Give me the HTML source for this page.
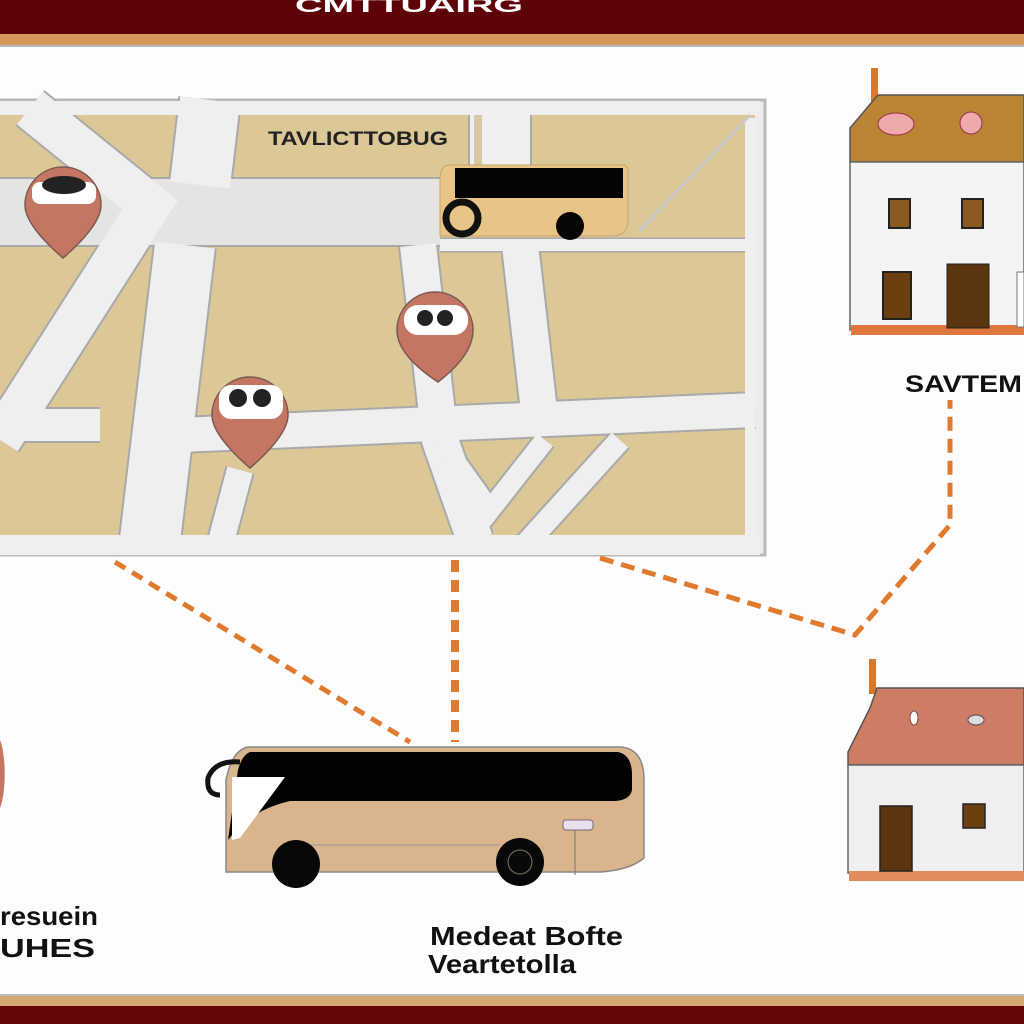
<!DOCTYPE html>
<html><head><meta charset="utf-8"><style>
html,body{margin:0;padding:0;background:#fff;}
svg{display:block;}
text{font-family:"Liberation Sans",sans-serif;font-weight:bold;}
</style></head><body>
<svg width="1024" height="1024" viewBox="0 0 1024 1024" xmlns="http://www.w3.org/2000/svg">
<rect width="1024" height="1024" fill="#fdfdfd"/>
<rect x="0" y="0" width="1024" height="34" fill="#5e0309"/>
<rect x="0" y="34" width="1024" height="11" fill="#d59a5a"/>
<rect x="0" y="45" width="1024" height="2" fill="#b9b9c0"/>
<text x="295" y="12" font-size="20" fill="#fff" textLength="228" lengthAdjust="spacingAndGlyphs">CMTTUAIRG</text>
<rect x="0" y="994" width="1024" height="2" fill="#b9b9c0"/>
<rect x="0" y="996" width="1024" height="10" fill="#d4a872"/>
<rect x="0" y="1006" width="1024" height="18" fill="#640508"/>

<rect x="0" y="100" width="765" height="455" fill="#ececec" stroke="#b9b9b9" stroke-width="3"/>
<rect x="0" y="112" width="755" height="428" fill="#dcc797"/>
<g stroke="#a9a9a9" stroke-linecap="butt" fill="none">
 <path d="M0 212 H440" stroke-width="70"/>
 <path d="M440 245 H755" stroke-width="15"/>
 <path d="M30 108 L150 205 L0 440" stroke-width="46"/>
 <path d="M185 245 L150 540" stroke-width="64"/>
 <path d="M210 100 L200 185" stroke-width="64"/>
 <path d="M500 110 V180" stroke-width="64"/>
 <path d="M418 245 L440 440 L475 540" stroke-width="40"/>
 <path d="M520 245 L540 420" stroke-width="40"/>
 <path d="M20 425 H100" stroke-width="36"/>
 <path d="M180 435 L755 410" stroke-width="38"/>
 <path d="M440 440 L490 510 L545 440" stroke-width="24"/>
 <path d="M620 440 L525 545" stroke-width="26"/>
 <path d="M240 470 L220 545" stroke-width="30"/>
</g>
<g stroke="#efefef" stroke-linecap="butt" fill="none">
 <path d="M0 212 H440" stroke-width="66" stroke="#e4e4e4"/>
 <path d="M440 245 H755" stroke-width="12"/>
 <path d="M30 108 L150 205 L0 440" stroke-width="42"/>
 <path d="M185 245 L150 540" stroke-width="60"/>
 <path d="M210 100 L200 185" stroke-width="60"/>
 <path d="M500 110 V180" stroke-width="60"/>
 <path d="M418 245 L440 440 L475 540" stroke-width="36"/>
 <path d="M520 245 L540 420" stroke-width="36"/>
 <path d="M20 425 H100" stroke-width="32"/>
 <path d="M180 435 L755 410" stroke-width="34"/>
 <path d="M440 440 L490 510 L545 440" stroke-width="20"/>
 <path d="M620 440 L525 545" stroke-width="22"/>
 <path d="M240 470 L220 545" stroke-width="26"/>
 <path d="M0 545 H760" stroke-width="20"/>
 <path d="M0 108 H760" stroke-width="14"/>
 <path d="M750 118 V545" stroke-width="10"/>
 <path d="M640 230 L750 115" stroke-width="3" stroke="#c9c9c9"/>
</g>
<text x="268" y="145" font-size="19" fill="#222" textLength="180" lengthAdjust="spacingAndGlyphs">TAVLICTTOBUG</text>
<rect x="474" y="115" width="8" height="50" fill="#d8c9a6"/>
<path d="M450 165 H622 Q628 165 628 172 V220 Q628 236 612 236 H440 V180 Q440 165 450 165Z" fill="#e9c487" stroke="#c8a56b"/>
<rect x="455" y="168" width="168" height="30" fill="#050505"/>
<circle cx="570" cy="226" r="14" fill="#060606"/>
<circle cx="462" cy="218" r="16" fill="none" stroke="#111" stroke-width="7"/>
<g stroke="#7a5a50" stroke-width="1.5">
 <path d="M25 205 A38 38 0 1 1 101 205 Q101 225 63 258 Q25 225 25 205Z" fill="#c47662"/>
 <path d="M397 330 A38 38 0 1 1 473 330 Q473 355 438 382 Q397 355 397 330Z" fill="#c47662"/>
 <path d="M212 415 A38 38 0 1 1 288 415 Q288 435 250 468 Q212 435 212 415Z" fill="#c47662"/>
</g>
<rect x="32" y="182" width="64" height="22" rx="8" fill="#fff"/>
<ellipse cx="64" cy="185" rx="22" ry="9" fill="#222"/>
<rect x="404" y="305" width="64" height="30" rx="14" fill="#fff"/>
<circle cx="425" cy="318" r="8" fill="#222"/><circle cx="445" cy="318" r="8" fill="#222"/>
<rect x="219" y="385" width="64" height="34" rx="12" fill="#fff"/>
<circle cx="238" cy="398" r="9" fill="#222"/><circle cx="262" cy="398" r="9" fill="#222"/>

<g stroke-width="5" fill="none">
 <path d="M115 562 L410 742" stroke="#fff"/>
 <path d="M115 562 L410 742" stroke="#e07a2e" stroke-dasharray="12 8"/>
 <path d="M455 560 V742" stroke="#fff" stroke-width="8"/>
 <path d="M455 560 V742" stroke="#e07a2e" stroke-width="8" stroke-dasharray="12 8"/>
 <path d="M600 558 L855 635 L950 525 L950 400" stroke="#e07a2e" stroke-dasharray="14 8"/>
</g>

<rect x="871" y="68" width="7" height="35" fill="#d9782c"/>
<path d="M878 95 H1024 V162 H850 V128 L872 102Z" fill="#b98535" stroke="#555" stroke-width="1.5"/>
<rect x="850" y="162" width="174" height="168" fill="#f4f4f4" stroke="#666" stroke-width="1.5"/>
<rect x="851" y="325" width="173" height="10" fill="#e0783e"/>
<rect x="889" y="199" width="21" height="29" fill="#8a5a20" stroke="#222" stroke-width="2"/>
<rect x="962" y="199" width="21" height="29" fill="#8a5a20" stroke="#222" stroke-width="2"/>
<rect x="883" y="272" width="28" height="47" fill="#6b3f10" stroke="#222" stroke-width="2"/>
<rect x="947" y="264" width="42" height="64" fill="#5a3510" stroke="#222" stroke-width="1"/>
<rect x="1017" y="272" width="7" height="55" fill="#fff" stroke="#777"/>
<ellipse cx="896" cy="124" rx="18" ry="11" fill="#eaa" stroke="#934"/>
<circle cx="971" cy="123" r="11" fill="#eaa" stroke="#934"/>
<text x="905" y="392" font-size="24" fill="#111" textLength="117" lengthAdjust="spacingAndGlyphs">SAVTEM</text>

<rect x="869" y="659" width="7" height="35" fill="#d9782c"/>
<path d="M877 688 H1024 V765 H848 V752 L870 708Z" fill="#cc7d63" stroke="#555" stroke-width="1.5"/>
<rect x="848" y="765" width="176" height="108" fill="#efefef" stroke="#666" stroke-width="1.5"/>
<rect x="849" y="871" width="175" height="10" fill="#e28b5d"/>
<rect x="880" y="806" width="32" height="65" fill="#5c3510" stroke="#222" stroke-width="1.5"/>
<rect x="963" y="804" width="22" height="24" fill="#6b3f10" stroke="#222" stroke-width="1.5"/>
<ellipse cx="914" cy="718" rx="4" ry="7" fill="#fff" stroke="#844"/>
<ellipse cx="976" cy="720" rx="8" ry="5" fill="#ddd" stroke="#555"/>

<path d="M0 740 A10 40 0 0 1 0 808Z" fill="#c47662"/>

<path d="M248 747 H622 Q644 750 644 780 V858 Q630 870 600 872 H226 V780 Q232 750 248 747Z" fill="#d9b48d" stroke="#888" stroke-width="1.5"/>
<path d="M240 752 H618 Q632 755 632 775 V790 Q630 800 615 801 H290 Q250 810 228 840 L238 770 Q242 755 250 752Z" fill="#030303"/>
<path d="M232 777 L285 777 L240 838 L232 840Z" fill="#fff"/>
<path d="M240 762 Q215 760 208 778 Q206 795 220 795" fill="none" stroke="#111" stroke-width="5"/>
<rect x="563" y="820" width="30" height="10" rx="3" fill="#e9e0ef" stroke="#767"/>
<path d="M575 830 V875" stroke="#777"/>
<path d="M300 845 H500" stroke="#999"/>
<circle cx="296" cy="864" r="24" fill="#080808"/>
<circle cx="520" cy="862" r="24" fill="#080808"/>
<circle cx="520" cy="862" r="12" fill="none" stroke="#776" stroke-width="1"/>

<text x="0" y="925" font-size="26" fill="#111" textLength="98" lengthAdjust="spacingAndGlyphs">resuein</text>
<text x="0" y="957" font-size="26" fill="#111" textLength="95" lengthAdjust="spacingAndGlyphs">UHES</text>
<text x="430" y="945" font-size="26" fill="#111" textLength="193" lengthAdjust="spacingAndGlyphs">Medeat Bofte</text>
<text x="428" y="973" font-size="26" fill="#111" textLength="148" lengthAdjust="spacingAndGlyphs">Veartetolla</text>
</svg>
</body></html>
